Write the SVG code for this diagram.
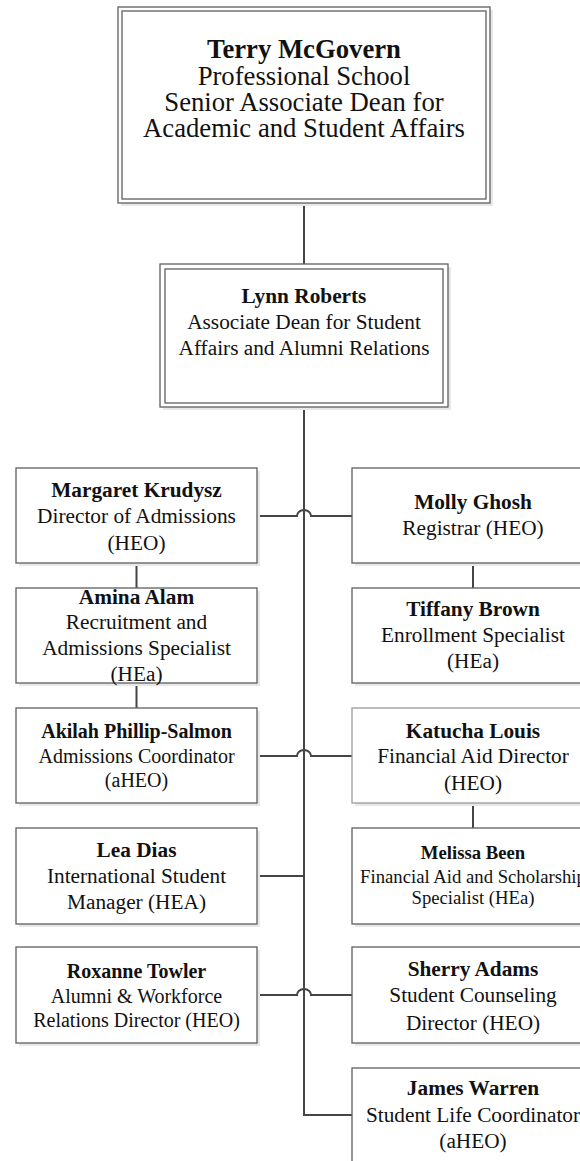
<svg xmlns="http://www.w3.org/2000/svg" width="580" height="1161" viewBox="0 0 580 1161">
<style>
.box{fill:#fff;stroke:#5f5f5f;stroke-width:1.3}
.light{stroke:#9a9a9a}
.sh{fill:#e8e8e8}
.con{fill:none;stroke:#454545;stroke-width:2}
text{font-family:"Liberation Serif","Times New Roman",serif;fill:#111;text-anchor:middle}
.b{font-weight:bold}
.t1{font-size:26.7px}
.t2{font-size:21.3px}
.t3{font-size:20px}
.t4{font-size:18.7px}
</style>
<rect width="580" height="1161" fill="#fff"/>
<g id="connectors">
<path class="con" d="M304,203 V264 M304,407 V1115 H352"/>
<path class="con" d="M257,516 H297 A7,6 0 0 1 311,516 H352"/>
<path class="con" d="M257,756 H297 A7,6 0 0 1 311,756 H352"/>
<path class="con" d="M257,876 H304"/>
<path class="con" d="M257,995 H297 A7,6 0 0 1 311,995 H352"/>
<path class="con" d="M136.5,563 V588 M136.5,683 V708 M473,563 V588 M473,803 V828"/>
</g>
<g id="n-mcgovern">
<rect class="sh" x="121" y="10" width="372" height="196"/>
<rect class="box" x="118" y="7" width="372" height="196"/>
<rect class="box" x="122" y="11" width="364" height="188"/>
<text class="t1" x="304"><tspan class="b" x="304" y="58">Terry McGovern</tspan><tspan x="304" y="85">Professional School</tspan><tspan x="304" y="111">Senior Associate Dean for</tspan><tspan x="304" y="137">Academic and Student Affairs</tspan></text>
</g>
<g id="n-roberts">
<rect class="sh" x="163" y="267" width="288" height="143"/>
<rect class="box" x="160" y="264" width="288" height="143"/>
<rect class="box" x="165" y="269" width="278" height="134"/>
<text class="t2"><tspan class="b" x="304" y="303">Lynn Roberts</tspan><tspan x="304" y="329">Associate Dean for Student</tspan><tspan x="304" y="355">Affairs and Alumni Relations</tspan></text>
</g>
<g id="n-krudysz">
<rect class="sh" x="19" y="471" width="241" height="95"/>
<rect class="box" x="16" y="468" width="241" height="95"/>
<text class="t2"><tspan class="b" x="136.5" y="497">Margaret Krudysz</tspan><tspan x="136.5" y="523">Director of Admissions</tspan><tspan x="136.5" y="550">(HEO)</tspan></text>
</g>
<g id="n-ghosh">
<rect class="sh" x="355" y="471" width="241" height="95"/>
<rect class="box" x="352" y="468" width="241" height="95"/>
<text class="t2"><tspan class="b" x="473" y="509">Molly Ghosh</tspan><tspan x="473" y="535">Registrar (HEO)</tspan></text>
</g>
<g id="n-alam">
<rect class="sh" x="19" y="591" width="241" height="95"/>
<rect class="box" x="16" y="588" width="241" height="95"/>
<text class="t2"><tspan class="b" x="136.5" y="604">Amina Alam</tspan><tspan x="136.5" y="629">Recruitment and</tspan><tspan x="136.5" y="655">Admissions Specialist</tspan><tspan x="136.5" y="681">(HEa)</tspan></text>
</g>
<g id="n-brown">
<rect class="sh" x="355" y="591" width="241" height="95"/>
<rect class="box" x="352" y="588" width="241" height="95"/>
<text class="t2"><tspan class="b" x="473" y="616">Tiffany Brown</tspan><tspan x="473" y="642">Enrollment Specialist</tspan><tspan x="473" y="668">(HEa)</tspan></text>
</g>
<g id="n-phillip-salmon">
<rect class="sh" x="19" y="711" width="241" height="95"/>
<rect class="box" x="16" y="708" width="241" height="95"/>
<text class="t3"><tspan class="b" x="136.5" y="738">Akilah Phillip-Salmon</tspan><tspan x="136.5" y="763">Admissions Coordinator</tspan><tspan x="136.5" y="787">(aHEO)</tspan></text>
</g>
<g id="n-louis">
<rect class="sh" x="355" y="711" width="241" height="95"/>
<rect class="box light" x="352" y="708" width="241" height="95"/>
<text class="t2"><tspan class="b" x="473" y="738">Katucha Louis</tspan><tspan x="473" y="763">Financial Aid Director</tspan><tspan x="473" y="790">(HEO)</tspan></text>
</g>
<g id="n-dias">
<rect class="sh" x="19" y="831" width="241" height="96"/>
<rect class="box" x="16" y="828" width="241" height="96"/>
<text class="t2"><tspan class="b" x="136.5" y="857">Lea Dias</tspan><tspan x="136.5" y="883">International Student</tspan><tspan x="136.5" y="909">Manager (HEA)</tspan></text>
</g>
<g id="n-been">
<rect class="sh" x="355" y="831" width="241" height="96"/>
<rect class="box" x="352" y="828" width="241" height="96"/>
<text class="t4"><tspan class="b" x="473" y="859">Melissa Been</tspan><tspan x="473" y="883">Financial Aid and Scholarship</tspan><tspan x="473" y="904">Specialist (HEa)</tspan></text>
</g>
<g id="n-towler">
<rect class="sh" x="19" y="950" width="241" height="96"/>
<rect class="box" x="16" y="947" width="241" height="96"/>
<text class="t3"><tspan class="b" x="136.5" y="978">Roxanne Towler</tspan><tspan x="136.5" y="1003">Alumni &amp; Workforce</tspan><tspan x="136.5" y="1027">Relations Director (HEO)</tspan></text>
</g>
<g id="n-adams">
<rect class="sh" x="355" y="950" width="241" height="96"/>
<rect class="box" x="352" y="947" width="241" height="96"/>
<text class="t2"><tspan class="b" x="473" y="976">Sherry Adams</tspan><tspan x="473" y="1002">Student Counseling</tspan><tspan x="473" y="1030">Director (HEO)</tspan></text>
</g>
<g id="n-warren">
<rect class="sh" x="355" y="1071" width="241" height="96"/>
<rect class="box" x="352" y="1068" width="241" height="96"/>
<text class="t2"><tspan class="b" x="473" y="1095">James Warren</tspan><tspan x="473" y="1122">Student Life Coordinator</tspan><tspan x="473" y="1148">(aHEO)</tspan></text>
</g>
</svg>
